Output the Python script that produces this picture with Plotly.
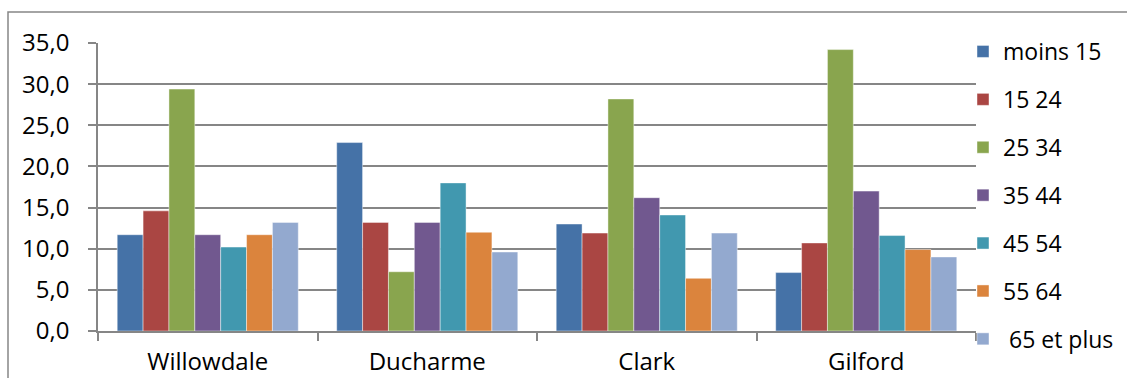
import plotly.graph_objects as go

# Neighbourhoods and age groups
quartiers = ["Willowdale", "Ducharme", "Clark", "Gilford"]
groupes = ["moins 15", "15 24", "25 34", "35 44", "45 54", "55 64", " 65 et plus"]

# Share of population (%) by age group, one list per group (same order as quartiers)
moins_15 = [11.7, 22.9, 13.0, 7.1]
g_15_24 = [14.6, 13.2, 11.9, 10.7]
g_25_34 = [29.4, 7.2, 28.2, 34.2]
g_35_44 = [11.7, 13.2, 16.2, 17.0]
g_45_54 = [10.2, 18.0, 14.1, 11.6]
g_55_64 = [11.7, 12.0, 6.4, 9.9]
g_65_plus = [13.2, 9.6, 11.9, 9.0]

series = [moins_15, g_15_24, g_25_34, g_35_44, g_45_54, g_55_64, g_65_plus]
couleurs = ["#4572A7", "#AA4643", "#89A54E", "#71588F", "#4198AF", "#DB843D", "#93A9CF"]

W, H = 1127, 378
ML, MR, MT, MB = 98, 151, 43, 47
pw = W - ML - MR
ph = H - MT - MB

fig = go.Figure()
for i, (nom, vals, c) in enumerate(zip(groupes, series, couleurs)):
    fig.add_trace(go.Bar(
        x=quartiers, y=vals, name=nom,
        marker=dict(color=c, line=dict(color="rgba(255,255,255,0.55)", width=0.8)),
        legendgroup=str(i),
    ))

grey = "#868686"
font_family = "Open Sans, DejaVu Sans, sans-serif"

fig.update_layout(
    width=W, height=H,
    margin=dict(l=ML, r=MR, t=MT, b=MB, autoexpand=False),
    paper_bgcolor="white", plot_bgcolor="white",
    barmode="group", bargap=0.175, bargroupgap=0,
    separators=", ",
    font=dict(family=font_family, size=24, color="black"),
    showlegend=True,
    legend=dict(
        x=(963 - ML) / pw, xanchor="left",
        y=1 + (MT - 30) / ph, yanchor="top",
        bgcolor="rgba(0,0,0,0)",
        tracegroupgap=15,
        font=dict(size=23),
        itemclick=False,
        maxheight=1000,
    ),
    xaxis=dict(
        showline=True, linecolor=grey, linewidth=1.5,
        ticks="outside", ticklen=8, tickcolor=grey, tickwidth=1.5,
        tickson="boundaries", showgrid=False, zeroline=False,
        ticklabelstandoff=8, automargin=False,
    ),
    yaxis=dict(
        range=[0, 35], dtick=5, tickformat=".1f",
        showline=True, linecolor=grey, linewidth=1.5,
        ticks="outside", ticklen=8, tickcolor=grey, tickwidth=1.5,
        showgrid=True, gridcolor=grey, gridwidth=1.5,
        zeroline=False, ticklabelstandoff=14, automargin=False,
    ),
)

# Outer chart frame
fig.add_shape(
    type="rect", xref="paper", yref="paper",
    x0=(8 - ML) / pw, x1=1.3,
    y0=-0.5, y1=1 + (MT - 12) / ph,
    line=dict(color=grey, width=1.5), fillcolor="rgba(0,0,0,0)", layer="below",
)

fig.write_html("out.html")
